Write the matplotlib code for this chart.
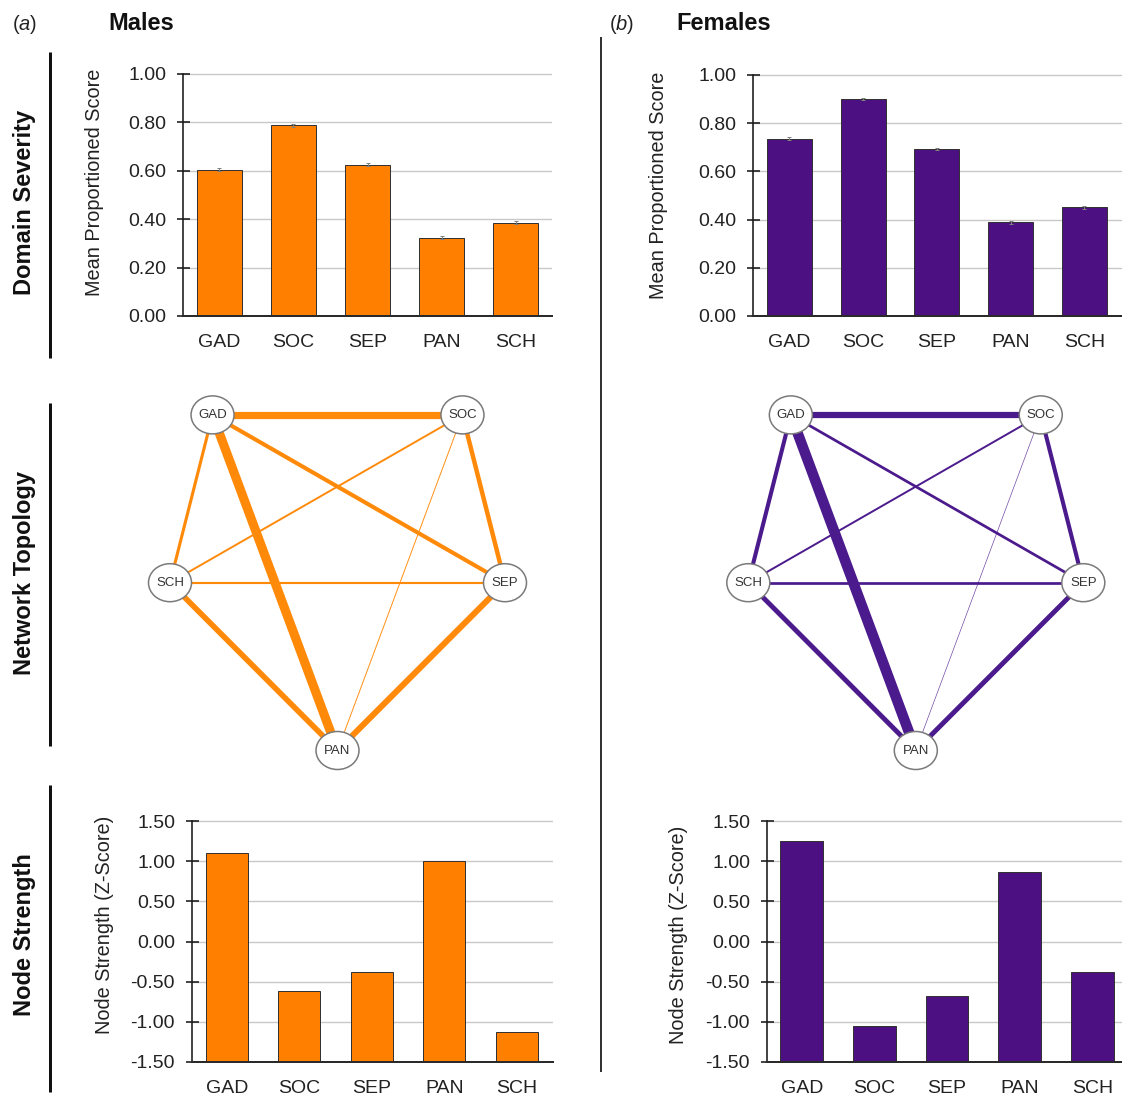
import numpy as np
import matplotlib
matplotlib.use("Agg")
import matplotlib.pyplot as plt
from matplotlib.patches import Ellipse
from matplotlib.ticker import FixedLocator, FixedFormatter

plt.rcParams['font.family'] = ['Liberation Sans', 'DejaVu Sans']
plt.rcParams['mathtext.fontset'] = 'custom'
plt.rcParams['mathtext.it'] = 'Liberation Sans:italic'
plt.rcParams['mathtext.rm'] = 'Liberation Sans'

# ---------------- data ----------------
categories = ['GAD', 'SOC', 'SEP', 'PAN', 'SCH']

male_severity = [0.604, 0.788, 0.626, 0.323, 0.386]
male_severity_err = [0.006, 0.005, 0.006, 0.006, 0.006]
female_severity = [0.736, 0.899, 0.693, 0.388, 0.451]
female_severity_err = [0.005, 0.004, 0.005, 0.005, 0.005]

male_strength = [1.10, -0.62, -0.38, 1.00, -1.13]
female_strength = [1.25, -1.05, -0.68, 0.86, -0.38]

severity_ticks = [0.0, 0.2, 0.4, 0.6, 0.8, 1.0]
severity_ticklabels = ['0.00', '0.20', '0.40', '0.60', '0.80', '1.00']
strength_ticks = [-1.5, -1.0, -0.5, 0.0, 0.5, 1.0, 1.5]
strength_ticklabels = ['-1.50', '-1.00', '-0.50', '0.00', '0.50', '1.00', '1.50']

nodes = ['GAD', 'SOC', 'SEP', 'PAN', 'SCH']
layout_x = [-0.746, 0.746, 1.0, 0.0, -1.0]
layout_y = [1.0, 1.0, 0.0, -1.0, 0.0]

edges = [('GAD', 'SOC'), ('GAD', 'PAN'), ('GAD', 'SCH'), ('GAD', 'SEP'),
         ('SOC', 'SCH'), ('SOC', 'SEP'), ('SOC', 'PAN'), ('SCH', 'SEP'),
         ('SCH', 'PAN'), ('SEP', 'PAN')]
male_edge_weights = [0.37, 0.47, 0.16, 0.21, 0.10, 0.23, 0.05, 0.11, 0.29, 0.31]
female_edge_weights = [0.32, 0.54, 0.21, 0.14, 0.10, 0.21, 0.035, 0.14, 0.25, 0.25]

# ---------------- styles ----------------
ORANGE_BAR = '#FF8000'
ORANGE_EDGE = '#FF8A0A'
PURPLE_BAR = '#4C1083'
PURPLE_EDGE = '#4B1A8C'
W, H = 1122, 1098
PT = 72.0 / 100.0  # px -> pt

fig = plt.figure(figsize=(W / 100, H / 100), dpi=100)


def px_axes(x0, y0, x1, y1):
    return fig.add_axes([x0 / W, 1 - y1 / H, (x1 - x0) / W, (y1 - y0) / H])


def style_bar_axes(ax, ticks, ticklabels, lo, hi):
    for s in ['top', 'right']:
        ax.spines[s].set_visible(False)
    ax.spines['left'].set_bounds(lo, hi)
    ax.spines['left'].set_linewidth(1.6 * PT)
    ax.spines['left'].set_color('#1a1a1a')
    ax.spines['bottom'].set_linewidth(2.0 * PT)
    ax.spines['bottom'].set_color('#2a2a2a')
    ax.yaxis.set_major_locator(FixedLocator(ticks))
    ax.yaxis.set_major_formatter(FixedFormatter(ticklabels))
    ax.tick_params(axis='y', direction='inout', length=13 * PT, width=1.6 * PT,
                   colors='#1a1a1a', labelsize=14, pad=7.5, labelcolor='#222222')
    ax.tick_params(axis='x', length=0, labelsize=14, pad=13, labelcolor='#222222')
    ax.set_xticks(range(len(categories)))
    ax.set_xticklabels(categories)
    ax.grid(axis='y', color='#c8c8c8', linewidth=1.4 * PT, zorder=0)
    ax.set_axisbelow(True)
    ax.set_facecolor('none')


def severity_panel(ax, values, errs, color, xlim, width):
    x = np.arange(len(categories))
    ax.bar(x, values, width=width, color=color, edgecolor='#333333',
           linewidth=1.0 * PT, zorder=2)
    ax.errorbar(x, values, yerr=errs, fmt='none', ecolor='#808080',
                elinewidth=1.0 * PT, capsize=1.5, capthick=1.0 * PT, zorder=3)
    ax.set_xlim(*xlim)
    ax.set_ylim(0, 1.02)
    style_bar_axes(ax, severity_ticks, severity_ticklabels, 0, 1.0)


def strength_panel(ax, values, color, xlim, width):
    x = np.arange(len(categories))
    base = strength_ticks[0]
    heights = np.array(values) - base
    ax.bar(x, heights, bottom=base, width=width, color=color,
           edgecolor='#333333', linewidth=1.0 * PT, zorder=2)
    ax.set_xlim(*xlim)
    ax.set_ylim(base, 1.53)
    style_bar_axes(ax, strength_ticks, strength_ticklabels, base, 1.5)


def network_panel(ax, weights, color):
    pos = {n: (layout_x[i], layout_y[i]) for i, n in enumerate(nodes)}
    for (a, b), w in zip(edges, weights):
        xa, ya = pos[a]
        xb, yb = pos[b]
        alpha = min(1.0, 0.45 + 10 * w)
        ax.plot([xa, xb], [ya, yb], color=color, lw=w * 14.0, alpha=alpha,
                solid_capstyle='butt', zorder=1)
    for n in nodes:
        x, y = pos[n]
        ax.add_patch(Ellipse((x, y), width=43 / 167.5, height=38 / 167.8,
                             facecolor='white', edgecolor='#7a7a7a',
                             linewidth=1.1, zorder=3))
        ax.text(x, y, n, ha='center', va='center', fontsize=9.5,
                color='#333333', zorder=4)
    ax.set_xlim(-1.15, 1.15)
    ax.set_ylim(-1.15, 1.15)
    ax.axis('off')


# ---------------- panels ----------------
ax1 = px_axes(183, 316 - 1.02 * 242, 552, 316)
severity_panel(ax1, male_severity, male_severity_err, ORANGE_BAR, (-0.49, 4.49), 0.6)

ax2 = px_axes(753, 316 - 1.02 * 241, 1122, 316)
severity_panel(ax2, female_severity, female_severity_err, PURPLE_BAR, (-0.495, 4.51), 0.61)

hx, hy = 167.5 * 1.15, 167.8 * 1.15
ax3 = px_axes(337.5 - hx, 582.7 - hy, 337.5 + hx, 582.7 + hy)
network_panel(ax3, male_edge_weights, ORANGE_EDGE)
ax4 = px_axes(915.8 - hx, 582.7 - hy, 915.8 + hx, 582.7 + hy)
network_panel(ax4, female_edge_weights, PURPLE_EDGE)

ax5 = px_axes(192, 1062 - 3.03 * 80.33, 553, 1062)
strength_panel(ax5, male_strength, ORANGE_BAR, (-0.48, 4.5), 0.58)

ax6 = px_axes(767, 1062 - 3.03 * 80.33, 1122, 1062)
strength_panel(ax6, female_strength, PURPLE_BAR, (-0.48, 4.41), 0.59)

# ---------------- annotations ----------------
def ftext(x, y, s, **kw):
    fig.text(x / W, 1 - y / H, s, **kw)

ftext(94, 182, 'Mean Proportioned Score', rotation=90, ha='center', va='center',
      fontsize=14.3, color='#222222')
ftext(658, 185, 'Mean Proportioned Score', rotation=90, ha='center', va='center',
      fontsize=14.3, color='#222222')
ftext(105, 925, 'Node Strength (Z-Score)', rotation=90, ha='center', va='center',
      fontsize=14.3, color='#222222')
ftext(678, 935, 'Node Strength (Z-Score)', rotation=90, ha='center', va='center',
      fontsize=14.3, color='#222222')

ftext(25, 202, 'Domain Severity', rotation=90, ha='center', va='center',
      fontsize=17, fontweight='bold', color='#111111')
ftext(25, 573, 'Network Topology', rotation=90, ha='center', va='center',
      fontsize=17, fontweight='bold', color='#111111')
ftext(25, 935, 'Node Strength', rotation=90, ha='center', va='center',
      fontsize=17, fontweight='bold', color='#111111')

ftext(25, 25, r'($\mathit{a}$)', ha='center', va='center', fontsize=14.5, color='#222222')
ftext(622, 25, r'($\mathit{b}$)', ha='center', va='center', fontsize=14.5, color='#222222')
ftext(141, 24, 'Males', ha='center', va='center', fontsize=17, fontweight='bold', color='#111111')
ftext(724, 24, 'Females', ha='center', va='center', fontsize=17, fontweight='bold', color='#111111')

# section lines
lines_ax = fig.add_axes([0, 0, 1, 1])
lines_ax.set_xlim(0, W)
lines_ax.set_ylim(H, 0)
lines_ax.axis('off')
lines_ax.patch.set_alpha(0)
for (y0, y1) in [(52, 358), (403, 746), (785, 1092)]:
    lines_ax.plot([50, 50], [y0, y1], color='#111111', lw=3 * PT, solid_capstyle='butt')
lines_ax.plot([601, 601], [37, 1072], color='#333333', lw=2 * PT, solid_capstyle='butt')

fig.savefig('out.png', dpi=100)
